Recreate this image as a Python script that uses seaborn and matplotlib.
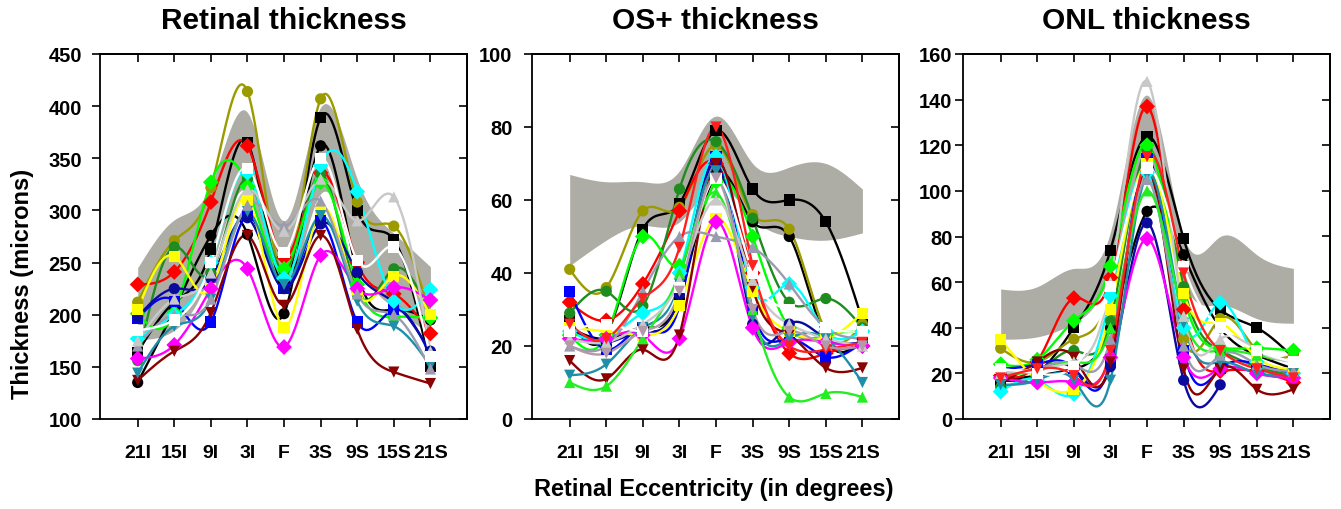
import numpy as np
import pandas as pd
import matplotlib
matplotlib.use("Agg")
import matplotlib.pyplot as plt
import seaborn as sns

nan = np.nan

# Eccentricity positions (inferior -> fovea -> superior)
eccentricity = ["21I", "15I", "9I", "3I", "F", "3S", "9S", "15S", "21S"]

# Subject styles: colour and marker
subjects = ["P01", "P02", "P03", "P04", "P05", "P06", "P07", "P08", "P09", "P10",
            "P11", "P12", "P13", "P14", "P15", "P16", "P17", "P18", "P19"]
colors = ["#000000", "#000000", "#9b9b00", "#ff0000", "#1e8c1e", "#00ff00", "#0000ff",
          "#0a0a9e", "#00ffff", "#ffff00", "#ff00ff", "#8b0000", "#1f8fa8", "#9b9bb0",
          "#22ee22", "#c8c8c8", "#ffffff", "#ff2020", "#b49aa8"]
markers = ["o", "s", "o", "D", "o", "D", "s", "o", "D", "s",
           "D", "v", "v", "^", "^", "^", "s", "v", "v"]

# Retinal thickness (microns)
retinal = {
    "P01": [135, 205, 276, 277, 201, 362, 240, 205, 195],
    "P02": [164, 212, 263, 365, 232, 389, 300, 272, 150],
    "P03": [212, 271, 322, 414, 237, 407, 308, 285, 200],
    "P04": [229, 241, 308, 362, 255, 336, 250, 220, 182],
    "P05": [156, 265, 240, 330, 242, 335, 222, 244, 200],
    "P06": [201, 202, 327, 323, 244, 327, 229, 198, 197],
    "P07": [196, 213, 193, 295, 225, 290, 193, 205, 161],
    "P08": [198, 225, 235, 293, 225, 287, 241, 212, 165],
    "P09": [177, 200, 250, 336, 235, 343, 318, 213, 224],
    "P10": [205, 256, 225, 311, 188, 301, 220, 237, 200],
    "P11": [158, 171, 225, 244, 169, 257, 225, 226, 214],
    "P12": [137, 165, 202, 276, 209, 276, 186, 145, 134],
    "P13": [144, 189, 215, 299, 229, 295, 213, 189, 151],
    "P14": [170, 200, 215, 305, 285, 309, 220, 200, 148],
    "P15": [nan] * 9,
    "P16": [175, 215, 240, 320, 280, 330, 290, 313, 165],
    "P17": [185, 195, 250, 340, 260, 350, 252, 265, 160],
    "P18": [nan] * 9,
    "P19": [nan] * 9,
}
retinal_lo = [176, 185, 243, 318, 225, 316, 252, 207, 180]
retinal_hi = [245, 291, 324, 394, 290, 399, 330, 278, 246]

# OS+ thickness (microns)
os_plus = {
    "P01": [25, 22, 25, 33, 67, 54, 50, 22, 22],
    "P02": [27, 23, 52, 59, 79, 63, 60, 54, 27],
    "P03": [41, 36, 57, 58, 75, 56, 52, 24, 26],
    "P04": [32, 27, 37, 57, 70, 40, 18, 18, 20],
    "P05": [29, 35, 31, 63, 76, 55, 32, 33, 25],
    "P06": [23, 23, 50, 42, 65, 50, 25, 23, 24],
    "P07": [35, 19, 25, 31, 72, 30, 22, 17, 21],
    "P08": [25, 21, 24, 34, 70, 26, 26, 22, 21],
    "P09": [24, 22, 29, 40, 72, 36, 37, 24, 24],
    "P10": [25, 24, 23, 31, 55, 35, 24, 22, 29],
    "P11": [22, 22, 23, 22, 54, 25, 21, 21, 20],
    "P12": [16, 11, 19, 23, 70, 36, 23, 14, 14],
    "P13": [12, 15, 25, 37, 68, 28, 22, 22, 10],
    "P14": [20, 20, 35, 50, 50, 47, 37, 25, 22],
    "P15": [10, 9, 22, 40, 62, 30, 6, 7, 6],
    "P16": [22, 21, 26, 38, 60, 38, 26, 22, 20],
    "P17": [24, 26, 24, 36, 66, 40, 30, 25, 24],
    "P18": [26, 22, 33, 47, 80, 42, 20, 19, 21],
    "P19": [20, 18, 24, 35, 66, 30, 24, 20, 20],
}
os_lo = [42, 49, 53, 54, 64, 55, 50, 49, 51]
os_hi = [67, 65, 65, 68, 83, 70, 69, 70, 63]

# ONL thickness (microns)
onl = {
    "P01": [17, 19, 22, 40, 91, 72, 40, 28, 22],
    "P02": [17, 20, 40, 74, 124, 79, 48, 40, 27],
    "P03": [31, 25, 35, 55, 108, 35, 44, 30, 28],
    "P04": [19, 25, 53, 62, 137, 48, 21, 21, 16],
    "P05": [14, 20, 30, 43, 118, 58, 30, 23, 19],
    "P06": [24, 26, 43, 67, 120, 54, 31, 31, 30],
    "P07": [22, 24, 22, 26, 114, 30, 22, 24, 20],
    "P08": [20, 22, 22, 23, 86, 17, 15, nan, nan],
    "P09": [12, 17, 11, 54, 108, 40, 51, 25, 20],
    "P10": [35, 17, 13, 48, 112, 55, 42, 27, 22],
    "P11": [18, 16, 16, 27, 79, 27, 22, 20, 18],
    "P12": [16, 25, 27, 25, 110, 22, 22, 13, 13],
    "P13": [15, 17, 17, 17, 107, 42, 25, 20, 20],
    "P14": [20, 22, 24, 35, 105, 32, 28, 24, 21],
    "P15": [20, 21, 25, 40, 100, 45, 30, 28, 25],
    "P16": [20, 22, 25, 60, 148, 45, 35, 30, 25],
    "P17": [22, 20, 23, 58, 110, 67, 40, 30, 25],
    "P18": [18, 22, 19, 30, 115, 64, 30, 22, 18],
    "P19": [nan] * 9,
}
onl_lo = [35, 36, 42, 64, 105, 60, 50, 44, 42]
onl_hi = [57, 58, 66, 82, 142, 80, 80, 72, 66]

titles = ["Retinal thickness", "OS+ thickness", "ONL thickness"]
y_limits = [(100, 450), (0, 100), (0, 160)]
y_steps = [50, 20, 20]
tick_pads = [7, 8, 1.5]


def natural_spline(xs, ys, n=20):
    """Smooth natural cubic spline through consecutive points (unit spacing)."""
    xs = np.asarray(xs, float)
    ys = np.asarray(ys, float)
    k = len(xs)
    if k < 3:
        return xs, ys
    A = np.zeros((k, k))
    b = np.zeros(k)
    A[0, 0] = A[-1, -1] = 1.0
    for i in range(1, k - 1):
        A[i, i - 1], A[i, i], A[i, i + 1] = 1.0, 4.0, 1.0
        b[i] = 6.0 * (ys[i + 1] - 2 * ys[i] + ys[i - 1])
    m = np.linalg.solve(A, b)
    out_x, out_y = [], []
    for i in range(k - 1):
        t = np.linspace(0, 1, n, endpoint=(i == k - 2))
        a = 1 - t
        yy = a * ys[i] + t * ys[i + 1] + ((a ** 3 - a) * m[i] + (t ** 3 - t) * m[i + 1]) / 6.0
        out_x.append(xs[i] + t)
        out_y.append(yy)
    return np.concatenate(out_x), np.concatenate(out_y)


def build_frames(values):
    pts, curves = [], []
    for s in subjects:
        y = np.asarray(values[s], float)
        x = np.arange(len(y), dtype=float)
        ok = ~np.isnan(y)
        for xi, yi in zip(x[ok], y[ok]):
            pts.append((s, xi, yi))
        # contiguous runs of valid points
        seg, seg_id = [], 0
        for i in range(len(y) + 1):
            if i < len(y) and ok[i]:
                seg.append(i)
            else:
                if len(seg) >= 2:
                    cx, cy = natural_spline(x[seg], y[seg])
                    for a, b in zip(cx, cy):
                        curves.append((s, f"{s}_{seg_id}", a, b))
                    seg_id += 1
                seg = []
    return (pd.DataFrame(pts, columns=["subject", "pos", "value"]),
            pd.DataFrame(curves, columns=["subject", "seg", "pos", "value"]))


sns.set_style("ticks")
plt.rcParams["font.family"] = ["Liberation Sans", "DejaVu Sans"]
plt.rcParams["font.weight"] = "bold"
plt.rcParams["axes.linewidth"] = 1.3
for key in ["text.color", "axes.labelcolor", "axes.edgecolor", "xtick.color", "ytick.color"]:
    plt.rcParams[key] = "black"

palette = dict(zip(subjects, colors))
marker_map = dict(zip(subjects, markers))

fig = plt.figure(figsize=(13.41, 5.10), dpi=100)
lefts = [100 / 1341, 532 / 1341, 963 / 1341]
panels = [(retinal, retinal_lo, retinal_hi), (os_plus, os_lo, os_hi), (onl, onl_lo, onl_hi)]

for k, (vals, lo, hi) in enumerate(panels):
    ax = fig.add_axes([lefts[k], 90 / 510, 367 / 1341, 365 / 510])
    xpos = np.arange(len(eccentricity))
    bx, blo = natural_spline(xpos, lo)
    _, bhi = natural_spline(xpos, hi)
    ax.fill_between(bx, blo, bhi, color="#adada5", lw=0, zorder=1)

    pts, curves = build_frames(vals)
    sns.lineplot(data=curves, x="pos", y="value", hue="subject", units="seg",
                 estimator=None, sort=False, palette=palette, legend=False,
                 lw=1.7, ax=ax, zorder=2)
    sns.scatterplot(data=pts, x="pos", y="value", hue="subject", style="subject",
                    palette=palette, markers=marker_map, s=65, linewidth=0,
                    legend=False, ax=ax, zorder=3)

    ax.set_xlim(-1.03, 9.0)
    ax.set_ylim(*y_limits[k])
    ax.set_xticks(xpos)
    ax.set_xticklabels(eccentricity)
    ax.set_yticks(np.arange(y_limits[k][0], y_limits[k][1] + 1, y_steps[k]))
    ax.set_xlabel("")
    ax.set_ylabel("")
    ax.tick_params(axis="x", direction="out", length=6, width=1.2, pad=12, labelsize=14)
    ax.tick_params(axis="y", direction="out", length=6, width=1.2, pad=tick_pads[k], labelsize=14.5)
    for lab in ax.get_xticklabels() + ax.get_yticklabels():
        lab.set_fontweight("bold")

    top = ax.secondary_xaxis("top")
    top.set_xticks(xpos)
    top.tick_params(axis="x", direction="in", length=6, width=1.2, labeltop=False)
    right = ax.secondary_yaxis("right")
    right.set_yticks(ax.get_yticks())
    right.tick_params(axis="y", direction="in", length=6, width=1.2, labelright=False)

    ax.set_title(titles[k], fontsize=21.5, fontweight="bold", pad=19)

fig.text(23 / 1341, 1 - 284 / 510, "Thickness (microns)", rotation=90,
         ha="center", va="center", fontsize=17, fontweight="bold")
fig.text(714 / 1341, 1 - 490 / 510, "Retinal Eccentricity (in degrees)",
         ha="center", va="center", fontsize=17, fontweight="bold")

fig.savefig("out.png", dpi=100)
